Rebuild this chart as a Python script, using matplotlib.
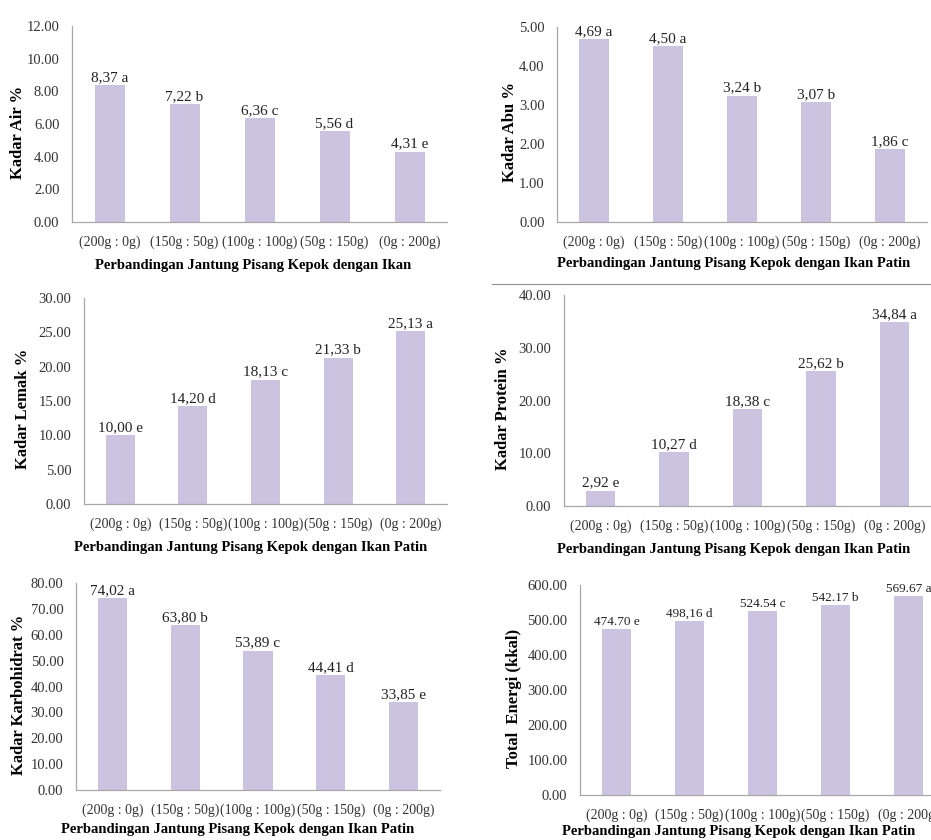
import matplotlib
matplotlib.use("Agg")
import matplotlib.pyplot as plt
from matplotlib.lines import Line2D

plt.rcParams['font.family'] = ['Liberation Serif', 'DejaVu Serif']

categories = ["(200g : 0g)", "(150g : 50g)", "(100g : 100g)", "(50g : 150g)", "(0g : 200g)"]

kadar_air = [8.37, 7.22, 6.36, 5.56, 4.31]
kadar_air_lbl = ["8,37 a", "7,22 b", "6,36 c", "5,56 d", "4,31 e"]

kadar_abu = [4.69, 4.50, 3.24, 3.07, 1.86]
kadar_abu_lbl = ["4,69 a", "4,50 a", "3,24 b", "3,07 b", "1,86 c"]

kadar_lemak = [10.00, 14.20, 18.13, 21.33, 25.13]
kadar_lemak_lbl = ["10,00 e", "14,20 d", "18,13 c", "21,33 b", "25,13 a"]

kadar_protein = [2.92, 10.27, 18.38, 25.62, 34.84]
kadar_protein_lbl = ["2,92 e", "10,27 d", "18,38 c", "25,62 b", "34,84 a"]

kadar_karbo = [74.02, 63.80, 53.89, 44.41, 33.85]
kadar_karbo_lbl = ["74,02 a", "63,80 b", "53,89 c", "44,41 d", "33,85 e"]

total_energi = [474.70, 498.16, 524.54, 542.17, 569.67]
total_energi_lbl = ["474.70 e", "498,16 d", "524.54 c", "542.17 b", "569.67 a"]

W, H = 931, 840
fig = plt.figure(figsize=(W / 100, H / 100), dpi=100)

BAR = "#cbc3df"
XT1 = "Perbandingan Jantung Pisang Kepok dengan Ikan"
XT2 = "Perbandingan Jantung Pisang Kepok dengan Ikan Patin"

panels = [
    # left, right, top, bottom, ylabel-x, xtitle-x, xtitle-y (px), ymax, step, values, labels, ylabel, xtitle, lblsize
    (72, 447, 26, 222, 18, 253, 266, 12, 2, kadar_air, kadar_air_lbl, "Kadar Air %", XT1, 11),
    (557, 927, 27, 222, 510, 734, 263, 5, 1, kadar_abu, kadar_abu_lbl, "Kadar Abu %", XT2, 11),
    (84, 447, 298, 504, 23, 251, 548, 30, 5, kadar_lemak, kadar_lemak_lbl, "Kadar Lemak %", XT2, 11),
    (564, 931, 295, 506, 503, 734, 550, 40, 10, kadar_protein, kadar_protein_lbl, "Kadar Protein %", XT2, 11),
    (76, 440, 583, 790, 19, 238, 830, 80, 10, kadar_karbo, kadar_karbo_lbl, "Kadar Karbohidrat %", XT2, 11),
    (580, 945, 585, 795, 514, 739, 831, 600, 100, total_energi, total_energi_lbl, "Total  Energi (kkal)", XT2, 9.5),
]

for (l, r, t, b, ylx, xtx, xty, ymax, step, vals, lbls, ylab, xt, lsz) in panels:
    ax = fig.add_axes([l / W, 1 - b / H, (r - l) / W, (b - t) / H])
    x = list(range(len(categories)))
    ax.bar(x, vals, width=0.4, color=BAR, edgecolor="none")
    for xi, v, s in zip(x, vals, lbls):
        ax.text(xi, v + ymax * 0.005, s, ha="center", va="bottom", fontsize=lsz, color="#222222")
    ax.set_xlim(-0.5, len(categories) - 0.5)
    ax.set_ylim(0, ymax)
    ticks = [i * step for i in range(int(round(ymax / step)) + 1)]
    ax.set_yticks(ticks)
    ax.set_yticklabels([f"{tv:.2f}" for tv in ticks], fontsize=10.5, color="#333333")
    ax.set_xticks(x)
    ax.set_xticklabels(categories, fontsize=10, color="#333333")
    ax.tick_params(axis="x", length=0, pad=10)
    ax.tick_params(axis="y", length=0, pad=9)
    for sp in ("top", "right"):
        ax.spines[sp].set_visible(False)
    for sp in ("left", "bottom"):
        ax.spines[sp].set_color("#a8a8a8")
        ax.spines[sp].set_linewidth(0.9)
    fig.text(ylx / W, 1 - ((t + b) / 2 + 8) / H, ylab, rotation=90, ha="center", va="center",
             fontsize=12, fontweight="bold")
    fig.text(xtx / W, 1 - xty / H, xt, ha="center", va="center", fontsize=10.5, fontweight="bold")

fig.add_artist(Line2D([492 / W, 1.0], [1 - 284 / H, 1 - 284 / H], color="#909090", linewidth=0.8))

fig.savefig("out.png", dpi=100)
